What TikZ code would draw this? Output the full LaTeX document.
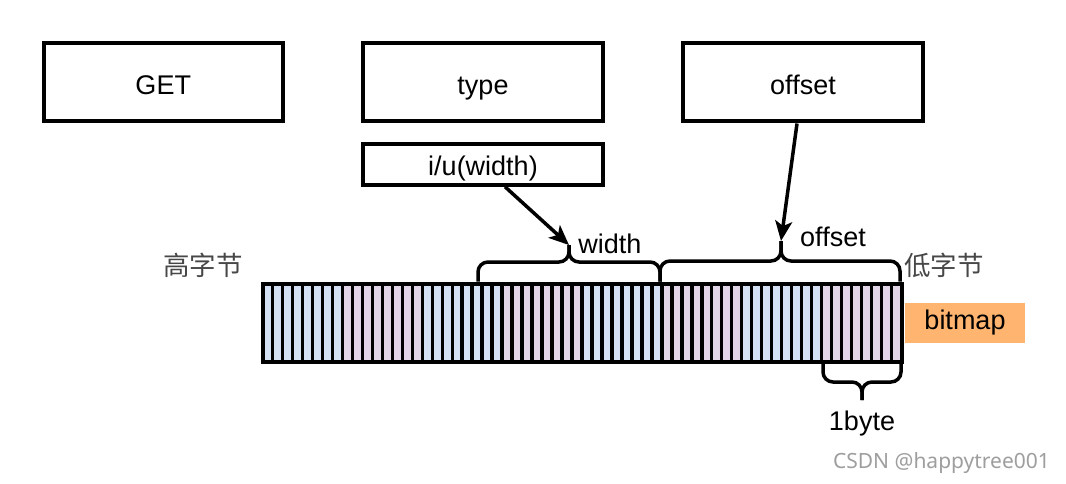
\documentclass[tikz,border=0pt]{standalone}
\usepackage{fontspec}
\setmainfont{Liberation Sans}
\newfontfamily\cjkfont{Noto Sans CJK SC}
\newfontfamily\wmfont{Noto Sans}
\usetikzlibrary{arrows.meta,calc}
\definecolor{bitblue}{HTML}{D4E1F5}
\definecolor{bitpurple}{HTML}{E1D5E7}
\definecolor{orangefill}{HTML}{FFB570}
\newcommand\lowtxt[2]{\lower#1pt\hbox{#2}}
\begin{document}
\begin{tikzpicture}[x=1pt,y=-1pt,
  box/.style={draw=black, line width=4pt, minimum width=239.5pt, minimum height=78pt, inner sep=0pt, text height=19.5pt, text depth=0pt, font=\fontsize{27}{32}\selectfont},
  smallbox/.style={box, minimum height=41pt},
  lbl/.style={inner sep=0pt, font=\fontsize{27}{32}\selectfont},
  cjk/.style={inner sep=0pt, text=black!72, font=\cjkfont\fontsize{26.5}{30}\selectfont},
  arr/.style={line width=3.5pt, -{Stealth[length=20pt,width=17pt,inset=5pt]}},
  brace/.style={line width=3.5pt, rounded corners=10pt},
  bitline/.style={line width=3.4pt}]
\useasboundingbox (0,0) rectangle (1066,484);

% boxes
\node[box] (get) at (163.25,82.5) {\lowtxt{2.5}{GET}};
\node[box] (type) at (483,82.5) {\lowtxt{2.5}{type}};
\node[box] (off) at (803,82.5) {\lowtxt{2.5}{offset}};
\node[smallbox] (iu) at (483,164.25) {\lowtxt{1.5}{i/u(width)}};

% bitmap bar
\foreach \b in {0,...,7}{
  \pgfmathsetmacro{\xa}{262.5+79.875*\b}
  \pgfmathsetmacro{\xb}{262.5+79.875*(\b+1)}
  \pgfmathtruncatemacro{\odd}{mod(\b,2)}
  \ifnum\odd=0
    \fill[bitblue] (\xa,283.5) rectangle (\xb,361.5);
  \else
    \fill[bitpurple] (\xa,283.5) rectangle (\xb,361.5);
  \fi
}
\foreach \k in {1,...,63}{
  \draw[bitline] (262.5+9.984*\k,283.5) -- (262.5+9.984*\k,361.5);
}
\draw[line width=4pt] (262.5,283.5) rectangle (901.5,361.5);

% braces
\coordinate (wL) at (478,281.5);
\coordinate (wR) at (660,281.5);
\coordinate (wtip) at (569,245);
\draw[brace] (wL) -- (478,262) -- (569,262) -- (wtip);
\draw[brace] (wR) -- (660,262) -- (569,262) -- (wtip);

\coordinate (oL) at (660,281.5);
\coordinate (oR) at (900,281.5);
\coordinate (otip) at (781,241);
\draw[brace] (oL) -- (660,261) -- (781,261) -- (otip);
\draw[brace] (oR) -- (900,261) -- (781,261) -- (otip);

\coordinate (bL) at (823,363);
\coordinate (bR) at (901,363);
\coordinate (btip) at (862,400);
\draw[brace] (bL) -- (823,382) -- (862,382) -- (btip);
\draw[brace] (bR) -- (901,382) -- (862,382) -- (btip);

% arrows
\draw[arr] ($(iu.south)+(22,0)$) -- (wtip);
\draw[arr] ($(off.south)+(-6,0)$) -- (otip);

% labels
\node[lbl] (wlabel) at (610,244) {width};
\node[lbl] (olabel) at (833,237) {offset};
\node[lbl] (onebyte) at (862,424) {1byte};
\node[cjk] (hi) at (203,265) {高字节};
\node[cjk] (lo) at (944,265) {低字节};
\node[fill=orangefill, minimum width=120pt, minimum height=40pt, inner sep=0pt, font=\fontsize{27}{32}\selectfont] (bitmap) at (965,322.7) {bitmap};
\node[inner sep=0pt, text=black!38, font=\wmfont\fontsize{21}{25}\selectfont] (wm) at (941.5,463) {CSDN @happytree001};
\end{tikzpicture}
\end{document}
